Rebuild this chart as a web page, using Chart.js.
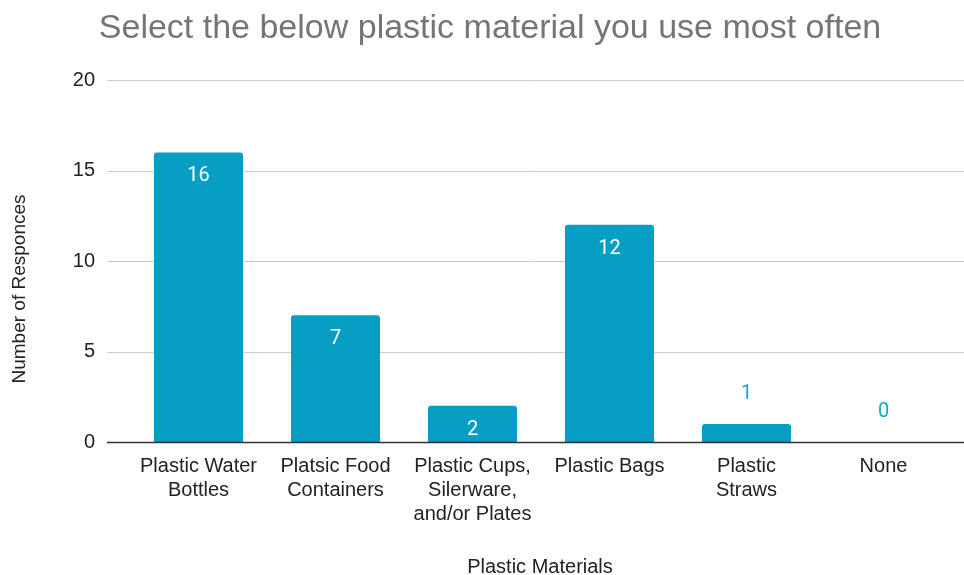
<!DOCTYPE html>
<html lang="en">
<head>
  <meta charset="UTF-8" />
  <title>Plastic material survey</title>
  <style>
    html, body { margin: 0; padding: 0; background: #ffffff; }
    #wrap { width: 964px; height: 575px; }
  </style>
  <script src="https://cdn.jsdelivr.net/npm/chart.js@4.4.1/dist/chart.umd.min.js"></script>
</head>
<body>
  <div id="wrap"><canvas id="barChart" width="964" height="575"></canvas></div>
  <script>
    const chartTitle = 'Select the below plastic material you use most often';
    const xTitle = 'Plastic Materials';
    const yTitle = 'Number of Responces';
    const categories = [
      ['Plastic Water', 'Bottles'],
      ['Platsic Food', 'Containers'],
      ['Plastic Cups,', 'Silerware,', 'and/or Plates'],
      'Plastic Bags',
      ['Plastic', 'Straws'],
      'None'
    ];
    const responses = [16, 7, 2, 12, 1, 0];
    const yTicks = [0, 5, 10, 15, 20];

    const barColor = '#069ec3';

    // title, axis titles and gridlines that run wider than the bar area
    const decorations = {
      id: 'decorations',
      beforeDatasetsDraw(chart) {
        const ctx = chart.ctx;
        const y = chart.scales.y;
        ctx.save();
        yTicks.forEach(v => {
          if (v === 0) return;
          const py = Math.round(y.getPixelForValue(v)) + 0.5;
          ctx.strokeStyle = '#cccccc';
          ctx.lineWidth = 1;
          ctx.beginPath();
          ctx.moveTo(107, py);
          ctx.lineTo(964, py);
          ctx.stroke();
        });
        ctx.restore();
      },
      afterDatasetsDraw(chart) {
        const ctx = chart.ctx;
        const y = chart.scales.y;
        ctx.save();
        const py = Math.round(y.getPixelForValue(0)) + 0.5;
        ctx.strokeStyle = '#333333';
        ctx.lineWidth = 1.5;
        ctx.beginPath();
        ctx.moveTo(107, py);
        ctx.lineTo(964, py);
        ctx.stroke();

        ctx.textAlign = 'center';
        ctx.textBaseline = 'middle';
        ctx.fillStyle = '#757575';
        ctx.font = '34px "Liberation Sans"';
        ctx.fillText(chartTitle, 490, 29);

        ctx.fillStyle = '#222222';
        ctx.font = '20px "Liberation Sans"';
        ctx.fillText(xTitle, 540, 567);

        ctx.translate(20, 289);
        ctx.rotate(-Math.PI / 2);
        ctx.font = '19px "Liberation Sans"';
        ctx.fillText(yTitle, 0, 0);
        ctx.restore();
      }
    };

    // value labels: white inside bars, blue above short ones
    const valueLabels = {
      id: 'valueLabels',
      afterDatasetsDraw(chart) {
        const ctx = chart.ctx;
        const meta = chart.getDatasetMeta(0);
        ctx.save();
        ctx.font = '20px Roboto';
        ctx.textAlign = 'center';
        ctx.textBaseline = 'middle';
        meta.data.forEach((bar, i) => {
          const v = responses[i];
          const h = bar.base - bar.y;
          if (h > 30) {
            ctx.fillStyle = '#ffffff';
            ctx.fillText(String(v), bar.x, bar.y + 24);
          } else {
            ctx.fillStyle = '#1ba5c9';
            ctx.fillText(String(v), bar.x, bar.y - 30);
          }
        });
        ctx.restore();
      }
    };

    new Chart(document.getElementById('barChart'), {
      type: 'bar',
      data: {
        labels: categories,
        datasets: [{
          data: responses,
          backgroundColor: barColor,
          borderRadius: { topLeft: 3, topRight: 3 },
          borderSkipped: 'bottom',
          barPercentage: 0.65,
          categoryPercentage: 1
        }]
      },
      options: {
        responsive: false,
        animation: false,
        layout: { padding: { left: 0, right: 12, top: 80, bottom: 0 } },
        plugins: {
          legend: { display: false },
          tooltip: { enabled: false },
          title: { display: false }
        },
        scales: {
          x: {
            afterFit(scale) { scale.height = 133; },
            grid: { display: false, drawTicks: false },
            border: { display: false },
            ticks: {
              color: '#222222',
              font: { family: 'Liberation Sans', size: 20, lineHeight: 1.2 },
              maxRotation: 0,
              autoSkip: false,
              padding: 12
            }
          },
          y: {
            min: 0,
            max: 20,
            afterBuildTicks(scale) {
              scale.ticks = yTicks.map(v => ({ value: v }));
            },
            afterFit(scale) { scale.width = 130; },
            grid: { display: false, drawTicks: false },
            border: { display: false },
            ticks: {
              color: '#222222',
              font: { family: 'Liberation Sans', size: 20 },
              padding: 35
            }
          }
        }
      },
      plugins: [decorations, valueLabels]
    });
  </script>
</body>
</html>
